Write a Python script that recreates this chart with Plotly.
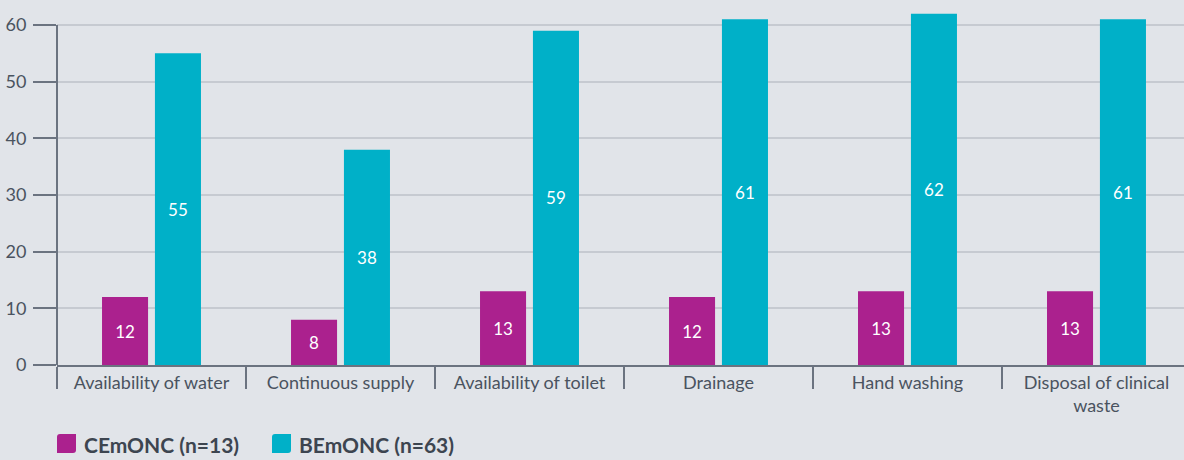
import plotly.graph_objects as go

categories = [
    "Availability of water",
    "Continuous supply",
    "Availability of toilet",
    "Drainage",
    "Hand washing",
    "Disposal of clinical<br>waste",
]
cemonc = [12, 8, 13, 12, 13, 13]
bemonc = [55, 38, 59, 61, 62, 61]
series_names = ["CEmONC (n=13)", "BEmONC (n=63)"]
y_ticks = [0, 10, 20, 30, 40, 50, 60]

MAGENTA = "#AB218E"
TEAL = "#00B0C8"
BG = "#E1E4E9"
AXIS = "#6B7380"
GRID = "#C6CAD1"
TEXT = "#4A5360"
FONT = "Lato, sans-serif"

W, H = 1184, 460
L, R, T, B = 57, 0, 12, 95
pw, ph = W - L - R, H - T - B


def px_to_paper(x, y):
    return (x - L) / pw, (H - B - y) / ph


fig = go.Figure()
for name, vals, color in [(series_names[0], cemonc, MAGENTA), (series_names[1], bemonc, TEAL)]:
    fig.add_trace(go.Bar(
        name=name,
        x=categories,
        y=vals,
        marker=dict(color=color, line=dict(width=0)),
        text=[str(v) for v in vals],
        textposition="inside",
        insidetextanchor="middle",
        textangle=0,
        textfont=dict(color="white", size=17, family=FONT),
        showlegend=False,
        hoverinfo="skip",
    ))

# y axis line only up to the top tick
fig.add_shape(type="line", xref="paper", yref="y", x0=0, x1=0, y0=0, y1=60,
              line=dict(color=AXIS, width=2), layer="above")

# hand-made legend (rounded squares + bold labels)
legend_items = [(series_names[0], MAGENTA, 57), (series_names[1], TEAL, 272)]
for name, color, px in legend_items:
    x0, y0 = px_to_paper(px, 453)
    x1, y1 = px_to_paper(px + 19, 434)
    r = 3 / pw
    ry = 3 / ph
    path = (f"M{x0+r},{y1} L{x1},{y1} L{x1},{y0+ry} Q{x1},{y0} {x1-r},{y0} "
            f"L{x0},{y0} L{x0},{y1-ry} Q{x0},{y1} {x0+r},{y1} Z")
    fig.add_shape(type="path", xref="paper", yref="paper", path=path,
                  fillcolor=color, line=dict(width=0))
    tx, ty = px_to_paper(px + 25, 444)
    fig.add_annotation(text=f"<b>{name}</b>", xref="paper", yref="paper", x=tx, y=ty,
                       xanchor="left", yanchor="middle", showarrow=False,
                       font=dict(size=21, color="#3D4550", family=FONT))

fig.update_layout(
    width=W,
    height=H,
    margin=dict(l=L, r=R, t=T, b=B),
    paper_bgcolor=BG,
    plot_bgcolor=BG,
    font=dict(family=FONT, size=18, color=TEXT),
    barmode="group",
    bargap=0.44,
    bargroupgap=0.13,
    xaxis=dict(
        range=[-0.5, 5.463],
        showline=True, linecolor=AXIS, linewidth=2,
        ticks="outside", tickson="boundaries", ticklen=22, tickwidth=2, tickcolor=AXIS,
        showgrid=False,
        tickfont=dict(size=18, color=TEXT),
    ),
    yaxis=dict(
        range=[0, 62.3],
        tickvals=y_ticks,
        showline=False,
        ticks="outside", ticklen=23, tickwidth=2, tickcolor=AXIS,
        showgrid=True, gridcolor=GRID, gridwidth=2,
        zeroline=False,
        tickfont=dict(size=18, color=TEXT),
        ticklabelstandoff=3,
    ),
    showlegend=False,
    hovermode=False,
)

fig.write_html("out.html", config={"displayModeBar": False},
               post_script="document.body.style.margin='0';")
